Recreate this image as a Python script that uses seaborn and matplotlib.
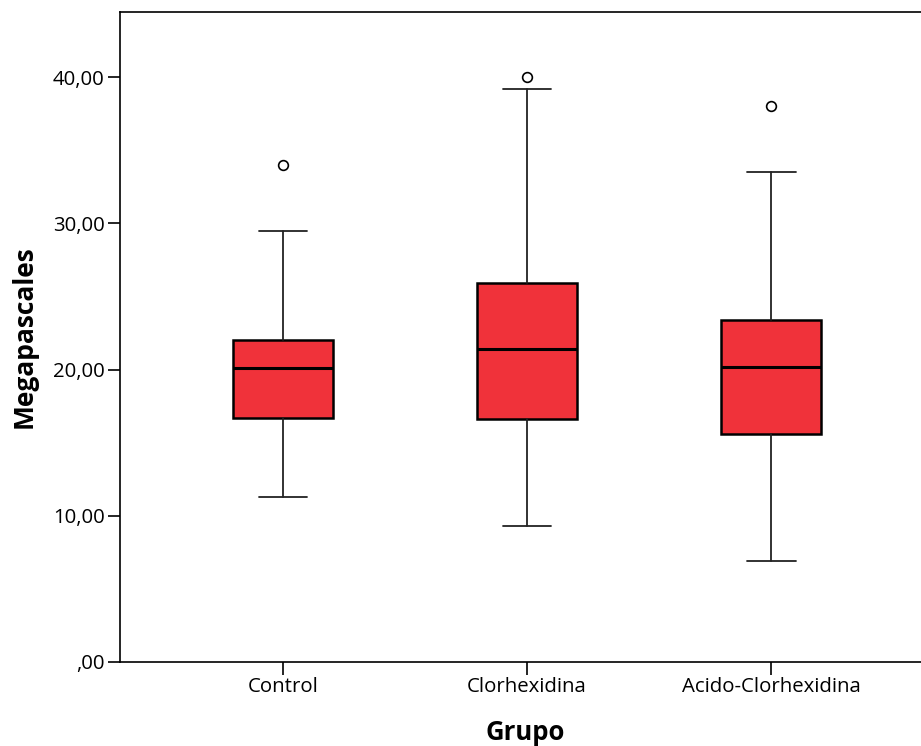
import numpy as np
import matplotlib
import matplotlib.pyplot as plt
import seaborn as sns

matplotlib.use("Agg")

# Data (summary stats per group)
grupos = ["Control", "Clorhexidina", "Acido-Clorhexidina"]
whisker_low = [11.3, 9.3, 6.9]
q1 = [16.7, 16.6, 15.6]
median = [20.1, 21.4, 20.2]
q3 = [22.05, 25.9, 23.4]
whisker_high = [29.5, 39.2, 33.5]
outliers = [[34.0], [40.0], [38.0]]

y_ticks = [0, 10, 20, 30, 40]
y_ticklabels = [",00", "10,00", "20,00", "30,00", "40,00"]

# Colors and style
c_box = "#F0323A"
c_line = "black"

sns.set_style("white")
plt.rcParams["font.family"] = ["Open Sans", "DejaVu Sans"]
plt.rcParams["text.color"] = "black"
plt.rcParams["axes.labelcolor"] = "black"

stats = []
for i, g in enumerate(grupos):
    stats.append({
        "label": g,
        "whislo": whisker_low[i],
        "q1": q1[i],
        "med": median[i],
        "q3": q3[i],
        "whishi": whisker_high[i],
        "fliers": outliers[i],
    })

fig = plt.figure(figsize=(9.21, 7.46), dpi=100)
ax = fig.add_axes([120 / 921, 84 / 746, 1 - 120 / 921 + 0.01, 650 / 746])

ax.bxp(stats, positions=range(len(grupos)), widths=0.41, capwidths=0.2,
       patch_artist=True,
       boxprops={"facecolor": c_box, "edgecolor": c_line, "linewidth": 1.8},
       medianprops={"color": c_line, "linewidth": 2.2},
       whiskerprops={"color": "#222222", "linewidth": 1.3},
       capprops={"color": "#222222", "linewidth": 1.3},
       flierprops={"marker": "o", "markerfacecolor": "white",
                   "markeredgecolor": c_line, "markersize": 7,
                   "markeredgewidth": 1.2})

ax.set_xlim(-0.668, 2.652)
ax.set_ylim(0, 44.45)
ax.set_yticks(y_ticks)
ax.set_yticklabels(y_ticklabels)
ax.set_xticks(range(len(grupos)))
ax.set_xticklabels(grupos)

for side in ["left", "bottom", "top", "right"]:
    ax.spines[side].set_color(c_line)
    ax.spines[side].set_linewidth(1.2)

ax.tick_params(axis="both", which="major", direction="out", length=9,
               width=1.2, color=c_line, labelsize=14.7, labelcolor="black",
               left=True, bottom=True, pad=2)

ax.set_ylabel("Megapascales", fontsize=19, fontweight="bold", labelpad=11)
ax.set_xlabel("Grupo", fontsize=18.5, fontweight="bold", labelpad=16)

plt.savefig("out.png", dpi=100)
plt.close(fig)
